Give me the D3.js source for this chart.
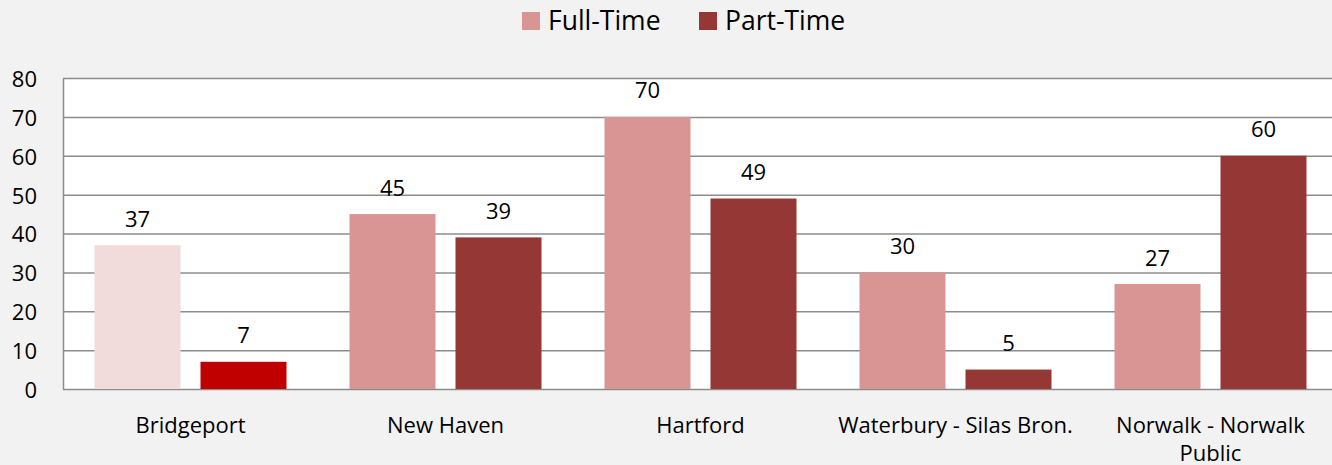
<!DOCTYPE html>
<html><head><meta charset="utf-8">
<script src="https://cdn.jsdelivr.net/npm/d3@7"></script>
<style>body{margin:0;background:#f2f2f2;overflow:hidden}svg{display:block}text{font-family:"Open Sans",sans-serif;fill:#000}</style>
</head><body><svg id="c" width="1332" height="465"></svg>
<script>
const categories = [["Bridgeport"],["New Haven"],["Hartford"],["Waterbury - Silas Bron."],["Norwalk - Norwalk","Public"]];
const seriesNames = ["Full-Time","Part-Time"];
const fullTime = [37,45,70,30,27];
const partTime = [7,39,49,5,60];
const yTicks = [0,10,20,30,40,50,60,70,80];
const colors = {"Full-Time":"#d99594","Part-Time":"#953735"};
const overrideColors = {0:{"Full-Time":"#f2dcdb","Part-Time":"#c00000"}};

(function(){
const svg = d3.select("#c");
const W=1332,H=465, FS=22;
svg.append("rect").attr("width",W).attr("height",H).attr("fill","#f2f2f2");
const pl=63, pt=78, pb=389, pr=1338;
const x = d3.scaleBand().domain(d3.range(categories.length)).range([pl,pr]).paddingInner(0).paddingOuter(0);
const x1 = d3.scaleBand().domain(seriesNames).range([31.5,x.bandwidth()-31.5]).paddingInner(20/106).paddingOuter(0);
const y = d3.scaleLinear().domain([0,80]).range([pb,pt]);

svg.append("rect").attr("x",pl).attr("y",pt).attr("width",W-pl).attr("height",pb-pt).attr("fill","#fff");
svg.append("g").selectAll("line").data(yTicks).join("line")
  .attr("x1",pl).attr("x2",W).attr("y1",d=>y(d)+0.5).attr("y2",d=>y(d)+0.5)
  .attr("stroke","#8c8c8c").attr("stroke-width",1.5);

const yAxis = svg.append("g").attr("transform",`translate(${pl},0)`)
  .call(d3.axisLeft(y).tickValues(yTicks).tickSize(0).tickPadding(26));
yAxis.select(".domain").attr("stroke","#8c8c8c").attr("stroke-width",1.5);
yAxis.selectAll("text").attr("font-size",FS).attr("dy","0.38em").style("font-family","'Open Sans',sans-serif").attr("fill","#000");

const data = categories.map((c,i)=>({i, vals:[{s:"Full-Time",v:fullTime[i]},{s:"Part-Time",v:partTime[i]}]}));
const g = svg.append("g").selectAll("g").data(data).join("g").attr("transform",d=>`translate(${x(d.i)},0)`);
g.selectAll("rect").data(d=>d.vals.map(o=>({...o,i:d.i}))).join("rect")
  .attr("x",d=>x1(d.s)).attr("width",x1.bandwidth())
  .attr("y",d=>y(d.v)).attr("height",d=>y(0)-y(d.v))
  .attr("fill",d=>(overrideColors[d.i]&&overrideColors[d.i][d.s])||colors[d.s]);
g.selectAll("text").data(d=>d.vals).join("text")
  .attr("x",d=>x1(d.s)+x1.bandwidth()/2).attr("y",d=>y(d.v)-18.5)
  .attr("text-anchor","middle").attr("font-size",FS).text(d=>d.v);

const cl = svg.append("g").selectAll("text").data(categories).join("text")
  .attr("x",(d,i)=>x(i)+x.bandwidth()/2).attr("y",433).attr("text-anchor","middle").attr("font-size",FS);
cl.selectAll("tspan").data(d=>d).join("tspan").attr("x",function(){return this.parentNode.getAttribute("x")}).attr("dy",(d,j)=>j?28:0).text(d=>d);

const leg = svg.append("g");
const lx=[522,699];
seriesNames.forEach((s,k)=>{
  leg.append("rect").attr("x",lx[k]).attr("y",12).attr("width",18).attr("height",18).attr("fill",colors[s]);
  leg.append("text").attr("x",lx[k]+26).attr("y",29.5).attr("font-size",26.5).text(s);
});
})();
</script></body></html>
